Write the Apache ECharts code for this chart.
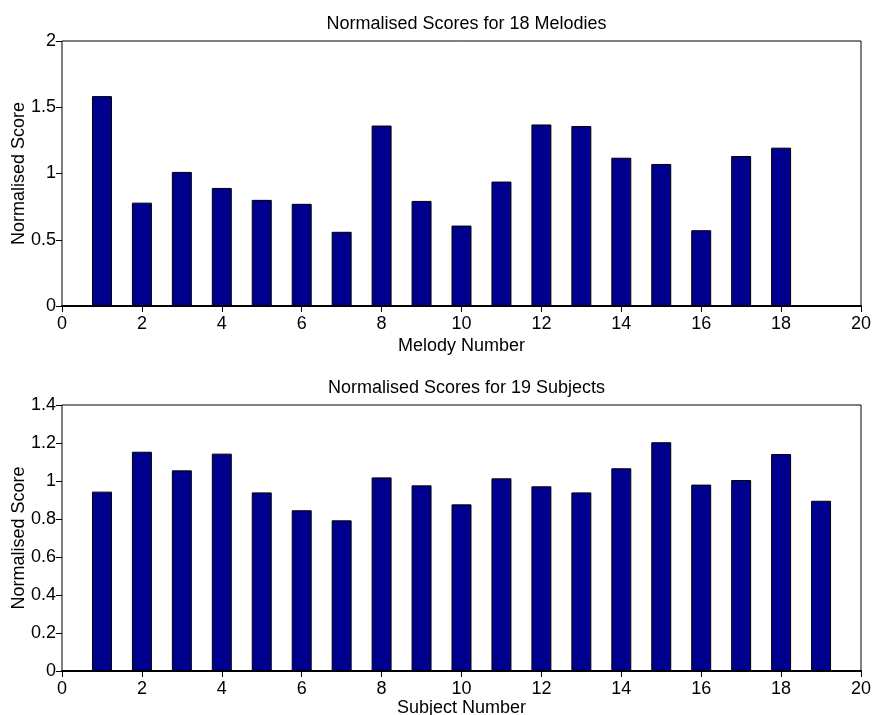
<!DOCTYPE html>
<html>
<head>
<meta charset="utf-8">
<script src="https://cdn.jsdelivr.net/npm/echarts@6/dist/echarts.min.js"></script>
<style>
  html, body { margin: 0; padding: 0; background: #fff; }
  #chart { width: 872px; height: 715px; }
</style>
</head>
<body>
<div id="chart"></div>
<script>
// Melody scores (top panel)
const melodyNumbers = [1, 2, 3, 4, 5, 6, 7, 8, 9, 10, 11, 12, 13, 14, 15, 16, 17, 18];
const melodyScores = [1.584, 0.780, 1.012, 0.891, 0.801, 0.771, 0.560, 1.362, 0.793, 0.607,
                      0.939, 1.370, 1.358, 1.119, 1.072, 0.572, 1.132, 1.195];

// Subject scores (bottom panel)
const subjectNumbers = [1, 2, 3, 4, 5, 6, 7, 8, 9, 10, 11, 12, 13, 14, 15, 16, 17, 18, 19];
const subjectScores = [0.944, 1.154, 1.056, 1.144, 0.940, 0.846, 0.793, 1.019, 0.977, 0.877,
                       1.014, 0.972, 0.940, 1.067, 1.204, 0.981, 1.005, 1.142, 0.896];

// Axis ticks
const xTicks = [0, 2, 4, 6, 8, 10, 12, 14, 16, 18, 20];
const melodyYTicks = [0, 0.5, 1, 1.5, 2];
const subjectYTicks = [0, 0.2, 0.4, 0.6, 0.8, 1, 1.2, 1.4];

const FONT = "'Liberation Sans', Arial, Helvetica, sans-serif";
const FS = 18;
const BAR_FILL = '#00008F';

const chart = echarts.init(document.getElementById('chart'), null, { renderer: 'canvas' });

const panels = [
  { top: 41, height: 265, title: 'Normalised Scores for 18 Melodies', xName: 'Melody Number',
    xs: melodyNumbers, ys: melodyScores, yTicks: melodyYTicks, xNameGap: 31 },
  { top: 405, height: 266, title: 'Normalised Scores for 19 Subjects', xName: 'Subject Number',
    xs: subjectNumbers, ys: subjectScores, yTicks: subjectYTicks, xNameGap: 28 }
];

const gridLeft = 62, gridWidth = 799;
const xMin = xTicks[0], xMax = xTicks[xTicks.length - 1];
const barPx = gridWidth / (xMax - xMin) * 0.5;

const option = {
  animation: false,
  backgroundColor: '#fff',
  textStyle: { fontFamily: FONT, color: '#000' },
  title: [], grid: [], xAxis: [], yAxis: [], series: []
};

panels.forEach((p, i) => {
  const yMin = p.yTicks[0], yMax = p.yTicks[p.yTicks.length - 1];
  const yStep = p.yTicks[1] - p.yTicks[0];
  const xStep = xTicks[1] - xTicks[0];

  option.title.push({
    text: p.title,
    left: gridLeft + gridWidth / 2,
    top: p.top - 31,
    textAlign: 'center',
    textStyle: { fontFamily: FONT, fontSize: FS, fontWeight: 'normal', color: '#000' }
  });
  option.grid.push({
    left: gridLeft, top: p.top, width: gridWidth, height: p.height,
    containLabel: false, outerBoundsMode: 'none',
    show: true, borderColor: '#000', borderWidth: 1, backgroundColor: '#fff'
  });

  // bottom x axis: labels + thick baseline
  option.xAxis.push({
    type: 'value', gridIndex: i, position: 'bottom',
    min: xMin, max: xMax, interval: xStep,
    name: p.xName, nameLocation: 'middle', nameGap: p.xNameGap, nameMoveOverlap: false,
    nameTextStyle: { fontFamily: FONT, fontSize: FS, color: '#000' },
    axisLine: { show: true, onZero: false, lineStyle: { color: '#000', width: 2 } },
    axisTick: { show: false },
    axisLabel: { fontFamily: FONT, fontSize: FS, color: '#000', margin: 9 },
    splitLine: { show: false }
  });
  // top x axis: inward ticks only
  option.xAxis.push({
    type: 'value', gridIndex: i, position: 'top',
    min: xMin, max: xMax, interval: xStep,
    axisLine: { show: false },
    axisTick: { show: true, inside: true, length: 6, lineStyle: { color: '#000', width: 1 } },
    axisLabel: { show: false },
    splitLine: { show: false }
  });
  // left y axis: labels + name
  option.yAxis.push({
    type: 'value', gridIndex: i, position: 'left',
    min: yMin, max: yMax, interval: yStep,
    name: 'Normalised Score', nameLocation: 'middle', nameGap: 34, nameRotate: 90,
    nameMoveOverlap: false,
    nameTextStyle: { fontFamily: FONT, fontSize: FS, color: '#000' },
    axisLine: { show: false },
    axisTick: { show: false },
    axisLabel: { fontFamily: FONT, fontSize: FS, color: '#000', margin: 6 },
    splitLine: { show: false }
  });
  // right y axis: inward ticks only
  option.yAxis.push({
    type: 'value', gridIndex: i, position: 'right',
    min: yMin, max: yMax, interval: yStep,
    axisLine: { show: false },
    axisTick: { show: true, inside: true, length: 6, lineStyle: { color: '#000', width: 1 } },
    axisLabel: { show: false },
    splitLine: { show: false }
  });

  option.series.push({
    type: 'bar',
    xAxisIndex: 2 * i, yAxisIndex: 2 * i,
    barWidth: barPx,
    data: p.xs.map((x, k) => [x, p.ys[k]]),
    itemStyle: { color: BAR_FILL, borderColor: '#000', borderWidth: 1 },
    z: 1
  });
});

chart.setOption(option);
</script>
</body>
</html>
